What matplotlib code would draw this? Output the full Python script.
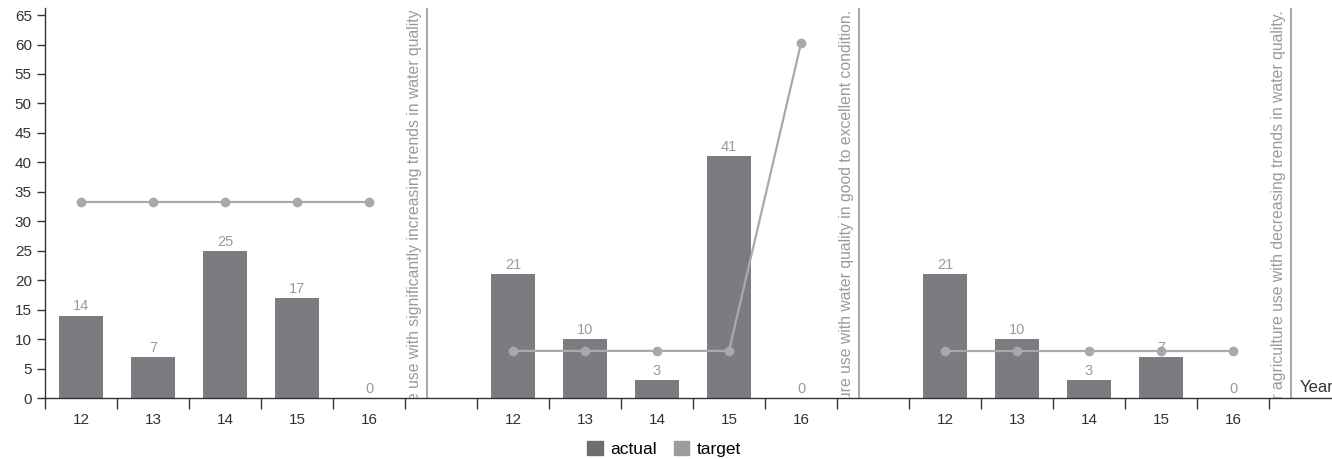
import numpy as np
import matplotlib
matplotlib.use('Agg')
from matplotlib import pyplot as plt
from matplotlib.patches import Patch

plt.rcParams['font.family'] = ['Liberation Sans', 'DejaVu Sans']

# data
years = ['12', '13', '14', '15', '16']
actual1 = [14, 7, 25, 17, 0]
actual2 = [21, 10, 3, 41, 0]
actual3 = [21, 10, 3, 7, 0]
target1 = [33.2, 33.2, 33.2, 33.2, 33.2]
target2 = [8, 8, 8, 8, 60.2]
target3 = [8, 8, 8, 8, 8]
titles = ['Percent of sites for agriculture use with significantly increasing trends in water quality',
          'Percent of sites for agriculture use with water quality in good to excellent condition.',
          'Percent of sites for agriculture use with decreasing trends in water quality.']

barColor = '#7c7c80'
lineColor = '#a9a9ac'
textGrey = '#9a9a9a'
axisColor = '#333333'

fig = plt.figure(figsize=(13.32, 4.59), dpi=100)
ax = fig.add_axes([45/1332, 1 - 398/459, 1 - 45/1332, 390/459])

groups = [(actual1, target1), (actual2, target2), (actual3, target3)]
majorPos = []
for g, (act, tgt) in enumerate(groups):
    x = np.arange(5) + g * 6
    majorPos += list(x)
    ax.bar(x, act, width=0.62, color=barColor, zorder=2)
    ax.plot(x, tgt, color=lineColor, lw=1.6, marker='o', ms=6, zorder=3)
    for xi, v in zip(x, act):
        ax.annotate(str(v), (xi, v), xytext=(0, 1.5), textcoords='offset points',
                    ha='center', va='bottom', fontsize=10.5, color=textGrey, zorder=4)
    # separator line with the group's description
    sep = g * 6 + 4.8
    ax.axvline(sep, color=lineColor, lw=1.5, zorder=1)
    ax.text(sep - 0.06, 65.9, titles[g], rotation=90, ha='right', va='top',
            fontsize=11.3, color=textGrey, clip_on=True)

ax.set_xlim(-0.5, (1332 - 45) / 72 - 0.5)
ax.set_ylim(0, 66.2)
ax.set_yticks(np.arange(0, 66, 5))
ax.set_xticks(majorPos)
ax.set_xticklabels(years * 3)
ax.set_xticks(np.arange(0, 18) - 0.5, minor=True)
ax.tick_params(axis='x', which='major', length=0, pad=11, labelsize=11, labelcolor=axisColor)
ax.tick_params(axis='x', which='minor', length=8, width=1, color=axisColor)
ax.tick_params(axis='y', length=6, width=1, color=axisColor, labelsize=11, labelcolor=axisColor)

for s in ['top', 'right']:
    ax.spines[s].set_visible(False)
for s in ['left', 'bottom']:
    ax.spines[s].set_color(axisColor)
    ax.spines[s].set_linewidth(1)

ax.text(1300 / 1332, 1 - 392 / 459, 'Year', transform=fig.transFigure, ha='left', va='baseline',
        fontsize=12, color=axisColor)

handles = [Patch(color='#6e6e72', label='actual'), Patch(color='#9c9ca0', label='target')]
fig.legend(handles=handles, loc='center', bbox_to_anchor=(664/1332, 1 - 449/459), ncol=2,
           frameon=False, fontsize=12.5, handlelength=0.9, handleheight=0.9, handletextpad=0.4,
           columnspacing=1.0)

fig.savefig('out.png', dpi=100)
